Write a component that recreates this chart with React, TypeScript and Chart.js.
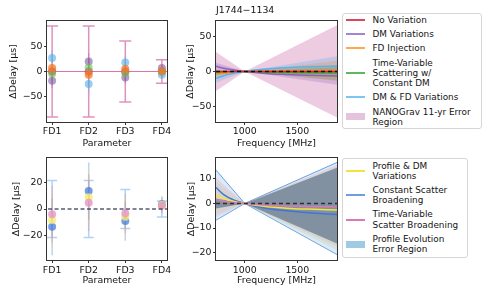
import React, { useEffect, useRef } from 'react';
import { Chart, registerables } from 'chart.js';

Chart.register(...registerables);

// ---------------- data ----------------
const PULSAR = 'J1744\u22121134';
const PARAMS = ['FD1', 'FD2', 'FD3', 'FD4'];
const PARAM_POS = [0, 1, 2, 3];

// top-left: FD fits (µs)
const NANOGRAV_FD = [0, 0, 0, 0];
const NANOGRAV_ERR = [91, 91, 61, 23.5];
const NO_VAR_FD = [0, 0, 0, 0];
const DM_VAR_FD = [-18.6, 20, -12, 6.8];
const FD_INJ_FD = [6.8, -6.6, 4.8, 1];
const TV_SCAT_FD = [-4.6, 8, -3.2, 0];
const DM_FD_FD = [26.8, -25.2, 18, -6.6];
const TOP_FIT_ERR = [15, 17, 13, 5];

// bottom-left
const PROF_EVOL_FD = [0, 0, 0, 0];
const PROF_EVOL_ERR = [21.5, 21.5, 14.8, 6];
const PROF_DM_FD = [-8.3, 8.9, -5.8, 3];
const CONST_SCAT_FD = [-13.4, 13.6, -9.1, 3.6];
const TV_BROAD_FD = [-4, 4.8, -3.3, 2.5];

// right panels: delay curves (µs) vs frequency (MHz)
const LINE_FREQS = [727, 800, 900, 1000, 1200, 1400, 1600, 1877];
const NO_VAR_DELAY = [0, 0, 0, 0, 0, 0, 0, 0];
const DM_VAR_DELAY = [7.5, 4.8, 2.2, 0, -2.8, -4.3, -5.4, -6.5];
const FD_INJ_DELAY = [-3.5, -2.2, -1.0, 0, 0.7, 1.0, 1.2, 1.3];
const TV_SCAT_DELAY = [-1.5, -1.0, -0.4, 0, -0.9, -1.5, -1.9, -2.3];
const DM_FD_DELAY = [-10, -6, -2.6, 0, 3.5, 5.5, 6.8, 8];

const PROF_DM_DELAY = [3.4, 2.0, 0.8, 0, -1.2, -1.9, -2.3, -2.7];
const CONST_SCAT_DELAY = [6.5, 3.6, 1.3, 0, -1.9, -3.0, -3.8, -4.5];
const TV_BROAD_DELAY = [1.6, 0.9, 0.35, 0, -0.7, -1.0, -1.2, -1.4];

// error regions
const BAND_FREQS = [727, 1000, 1877];
const NANOGRAV_HI = [28, 0, 66.5];
const NANOGRAV_LO = [-28, 0, -66];
const DM_VAR_HI = [12.5, 0, 6];
const DM_VAR_LO = [2.5, 0, -19];
const FD_INJ_HI = [1.5, 0, 15.3];
const FD_INJ_LO = [-8.5, 0, -12.7];
const TV_SCAT_HI = [2.5, 0, 8.7];
const TV_SCAT_LO = [-5.5, 0, -13.3];
const DM_FD_HI = [-4, 0, 22];
const DM_FD_LO = [-16, 0, -6];

const CONST_SCAT_HI = [13.6, 0, 16.7];
const CONST_SCAT_LO = [-6.8, 0, -20.8];
const TV_BROAD_HI = [10.5, 0, 15.8];
const TV_BROAD_LO = [-5.5, 0, -17.5];
const PROF_DM_HI = [9, 0, 15];
const PROF_DM_LO = [-4.5, 0, -19];
const PROF_EVOL_HI = [2, 0, 14.5];
const PROF_EVOL_LO = [-2, 0, -16.3];

// ticks
const TL_Y_TICKS = [-50, 0, 50];
const BL_Y_TICKS = [-20, 0, 20];
const TR_Y_TICKS = [-50, 0, 50];
const BR_Y_TICKS = [-20, -10, 0, 10];
const FREQ_TICKS = [1000, 1500];

const TOP_LEGEND = [
  { label: ['No Variation'], color: '#d9485f', kind: 'line' },
  { label: ['DM Variations'], color: '#a386d2', kind: 'line' },
  { label: ['FD Injection'], color: '#ffa84d', kind: 'line' },
  { label: ['Time-Variable', 'Scattering w/', 'Constant DM'], color: '#5cba5c', kind: 'line' },
  { label: ['DM & FD Variations'], color: '#7cc6f2', kind: 'line' },
  { label: ['NANOGrav 11-yr Error', 'Region'], color: '#e6c3dc', kind: 'patch' },
];
const BOTTOM_LEGEND = [
  { label: ['Profile & DM', 'Variations'], color: '#f2e43c', kind: 'line' },
  { label: ['Constant Scatter', 'Broadening'], color: '#6f9ee8', kind: 'line' },
  { label: ['Time-Variable', 'Scatter Broadening'], color: '#d97bb2', kind: 'line' },
  { label: ['Profile Evolution', 'Error Region'], color: '#9ecbe3', kind: 'patch' },
];

// ---------------- helpers ----------------
const FONT = { family: 'DejaVu Sans', size: 9.4 };
const TXT = '#141414';
const AX = '#333333';
const fmtNum = (v: number) => (v < 0 ? '\u2212' + Math.abs(v) : String(v));

type Box = { x: number; y: number; w: number; h: number };
type Plot = { l: number; t: number; r: number; b: number };

function yScale(box: Box, plot: Plot, min: number, max: number, ticks: number[], titleCenter: number) {
  return {
    type: 'linear', position: 'left', min, max,
    afterBuildTicks: (s: any) => { s.ticks = ticks.map((v) => ({ value: v })); },
    afterFit: (s: any) => { s.width = plot.l - box.x; },
    ticks: { font: FONT, color: TXT, padding: 1.5, autoSkip: false, maxRotation: 0, callback: (v: any) => fmtNum(v) },
    grid: { drawOnChartArea: false, drawTicks: true, tickLength: 3, color: AX, lineWidth: 1 },
    border: { display: false },
    title: { display: true, text: '\u0394Delay [\u03bcs]', font: FONT, color: TXT, padding: { top: titleCenter - box.x - FONT.size * 0.6, bottom: 0 } },
  };
}

function xScale(box: Box, plot: Plot, min: number, max: number, ticks: number[], labelFn: (v: number) => string, text: string, tickPad: number, titleCenterY: number) {
  return {
    type: 'linear', position: 'bottom', min, max,
    afterBuildTicks: (s: any) => { s.ticks = ticks.map((v) => ({ value: v })); },
    afterFit: (s: any) => { s.height = box.y + box.h - plot.b; },
    ticks: { font: FONT, color: TXT, padding: tickPad, autoSkip: false, maxRotation: 0, callback: (v: any) => labelFn(v) },
    grid: { drawOnChartArea: false, drawTicks: true, tickLength: 3, color: AX, lineWidth: 1 },
    border: { display: false },
    title: { display: true, text, font: FONT, color: TXT, padding: { top: 0, bottom: box.y + box.h - titleCenterY - FONT.size * 0.6 } },
  };
}

function baseOptions(box: Box, plot: Plot, scales: any) {
  return {
    animation: false, responsive: false, devicePixelRatio: 1, events: [],
    layout: { padding: { left: 0, top: plot.t - box.y, right: box.x + box.w - plot.r, bottom: 0 } },
    plugins: { legend: { display: false }, tooltip: { enabled: false }, title: { display: false } },
    scales,
  };
}

const boxPlugin = {
  id: 'frameBox',
  afterDraw(chart: any) {
    const { ctx, chartArea: a } = chart;
    ctx.save();
    ctx.strokeStyle = AX;
    ctx.lineWidth = 1;
    ctx.strokeRect(Math.round(a.left) - 0.5, Math.round(a.top) - 0.5, Math.round(a.right - a.left) + 1, Math.round(a.bottom - a.top) + 1);
    ctx.restore();
  },
};

type Bar = { vals: number[]; err: number[]; color: string; w: number; cap: number };
function errPlugin(bars: Bar[]) {
  return {
    id: 'errBars',
    beforeDatasetsDraw(chart: any) {
      const { ctx, scales } = chart;
      const xs = scales.x, ys = scales.y;
      ctx.save();
      for (const b of bars) {
        ctx.strokeStyle = b.color;
        ctx.lineWidth = b.w;
        ctx.beginPath();
        b.vals.forEach((v, i) => {
          const px = xs.getPixelForValue(PARAM_POS[i]);
          const top = ys.getPixelForValue(v + b.err[i]);
          const bot = ys.getPixelForValue(v - b.err[i]);
          ctx.moveTo(px, top); ctx.lineTo(px, bot);
          if (b.cap) {
            ctx.moveTo(px - b.cap, top); ctx.lineTo(px + b.cap, top);
            ctx.moveTo(px - b.cap, bot); ctx.lineTo(px + b.cap, bot);
          }
        });
        ctx.stroke();
      }
      ctx.restore();
    },
  };
}

const titlePlugin = {
  id: 'leftTitle',
  afterDraw(chart: any) {
    const { ctx, chartArea } = chart;
    ctx.save();
    ctx.font = `${FONT.size}px ${FONT.family}`;
    ctx.fillStyle = TXT;
    ctx.textAlign = 'left';
    ctx.textBaseline = 'middle';
    ctx.fillText(PULSAR, chartArea.left, 11);
    ctx.restore();
  },
};

const pts = (vals: number[], color: string, order: number) => ({
  data: PARAM_POS.map((x, i) => ({ x, y: vals[i] })),
  showLine: false, pointRadius: 4, pointBorderWidth: 0, pointBackgroundColor: color, backgroundColor: color, borderColor: color, order,
});
const curve = (xs: number[], vals: number[], color: string, order: number, width = 1.5, dash: number[] = []) => ({
  data: xs.map((x, i) => ({ x, y: vals[i] })),
  borderColor: color, borderWidth: width, borderDash: dash, pointRadius: 0, fill: false,
  cubicInterpolationMode: 'monotone', order,
});
const band = (hi: number[], lo: number[], color: string, order: number, edge = 'transparent', edgeW = 0) => [
  { data: BAND_FREQS.map((x, i) => ({ x, y: hi[i] })), borderColor: edge, borderWidth: edgeW, pointRadius: 0, tension: 0, fill: '+1', backgroundColor: color, order },
  { data: BAND_FREQS.map((x, i) => ({ x, y: lo[i] })), borderColor: edge, borderWidth: edgeW, pointRadius: 0, tension: 0, fill: false, order: order + 0.5 },
];

// ---------------- panels ----------------
const TL_BOX: Box = { x: 0, y: 0, w: 175, h: 150 };
const TL_PLOT: Plot = { l: 47, t: 21, r: 167, b: 122 };
const TR_BOX: Box = { x: 175, y: 0, w: 165, h: 150 };
const TR_PLOT: Plot = { l: 216, t: 21, r: 337, b: 122 };
const BL_BOX: Box = { x: 0, y: 150, w: 175, h: 144 };
const BL_PLOT: Plot = { l: 47, t: 158, r: 167, b: 260 };
const BR_BOX: Box = { x: 175, y: 150, w: 165, h: 144 };
const BR_PLOT: Plot = { l: 216, t: 158, r: 337, b: 260 };

const paramLabel = (v: number) => PARAMS[v] ?? '';
const freqLabel = (v: number) => String(v);

function makeTL() {
  return {
    type: 'line',
    data: {
      datasets: [
        pts(FD_INJ_FD, 'rgba(245,120,40,0.75)', 1),
        pts(TV_SCAT_FD, 'rgba(110,195,90,0.6)', 2),
        pts(DM_VAR_FD, 'rgba(130,90,165,0.6)', 3),
        pts(DM_FD_FD, 'rgba(80,175,235,0.6)', 4),
        pts(NO_VAR_FD, 'rgba(214,39,40,0.5)', 5),
        pts(NANOGRAV_FD, 'rgba(214,110,170,0.5)', 6),
        curve([-1, 4], [0, 0], 'rgba(214,100,165,0.9)', 7, 1.2),
      ],
    },
    options: baseOptions(TL_BOX, TL_PLOT, {
      x: xScale(TL_BOX, TL_PLOT, -0.14, 3.14, PARAM_POS, paramLabel, 'Parameter', 1, 143.5),
      y: yScale(TL_BOX, TL_PLOT, -101, 101, TL_Y_TICKS, 14),
    }),
    plugins: [
      errPlugin([
        { vals: NANOGRAV_FD, err: NANOGRAV_ERR, color: 'rgba(214,110,170,0.75)', w: 1.5, cap: 6 },
        { vals: DM_VAR_FD, err: TOP_FIT_ERR, color: 'rgba(148,103,189,0.35)', w: 1.5, cap: 0 },
        { vals: DM_FD_FD, err: TOP_FIT_ERR, color: 'rgba(86,180,233,0.35)', w: 1.5, cap: 0 },
        { vals: TV_SCAT_FD, err: TOP_FIT_ERR, color: 'rgba(44,160,44,0.25)', w: 1.5, cap: 0 },
        { vals: FD_INJ_FD, err: TOP_FIT_ERR, color: 'rgba(255,127,14,0.25)', w: 1.5, cap: 0 },
      ]),
      boxPlugin,
    ],
  };
}

function makeBL() {
  return {
    type: 'line',
    data: {
      datasets: [
        curve([-1, 4], [0, 0], 'rgba(40,50,80,0.8)', 0, 1.5, [4, 2.5]),
        pts(TV_BROAD_FD, 'rgba(230,150,195,0.8)', 1),
        pts(PROF_DM_FD, 'rgba(245,235,110,0.8)', 2),
        pts(CONST_SCAT_FD, 'rgba(70,125,225,0.75)', 3),
      ],
    },
    options: baseOptions(BL_BOX, BL_PLOT, {
      x: xScale(BL_BOX, BL_PLOT, -0.14, 3.14, PARAM_POS, paramLabel, 'Parameter', 2, 281),
      y: yScale(BL_BOX, BL_PLOT, -38.5, 38.5, BL_Y_TICKS, 16.7),
    }),
    plugins: [
      errPlugin([
        { vals: PROF_EVOL_FD, err: PROF_EVOL_ERR, color: 'rgba(150,195,240,0.75)', w: 1.5, cap: 5 },
        { vals: CONST_SCAT_FD, err: PROF_EVOL_ERR, color: 'rgba(91,142,230,0.4)', w: 1.5, cap: 0 },
        { vals: PROF_DM_FD, err: PROF_EVOL_ERR, color: 'rgba(240,225,80,0.35)', w: 1.5, cap: 0 },
        { vals: TV_BROAD_FD, err: PROF_EVOL_ERR, color: 'rgba(220,130,180,0.35)', w: 1.5, cap: 0 },
      ]),
      boxPlugin,
    ],
  };
}

function makeTR() {
  return {
    type: 'line',
    data: {
      datasets: [
        curve([727, 1877], [0, 0], '#111111', 0, 1.5, [4, 3]),
        curve(LINE_FREQS, NO_VAR_DELAY, '#d62728', 1),
        curve(LINE_FREQS, DM_FD_DELAY, '#56b4e9', 2),
        curve(LINE_FREQS, FD_INJ_DELAY, '#ff8c1a', 3),
        curve(LINE_FREQS, TV_SCAT_DELAY, '#3aa83a', 4),
        curve(LINE_FREQS, DM_VAR_DELAY, '#8a63c0', 5),
        ...band(TV_SCAT_HI, TV_SCAT_LO, 'rgba(44,160,44,0.2)', 10),
        ...band(FD_INJ_HI, FD_INJ_LO, 'rgba(255,127,14,0.22)', 12),
        ...band(DM_VAR_HI, DM_VAR_LO, 'rgba(148,103,189,0.28)', 14),
        ...band(DM_FD_HI, DM_FD_LO, 'rgba(86,180,233,0.28)', 16),
        ...band(NANOGRAV_HI, NANOGRAV_LO, 'rgba(205,110,170,0.36)', 20),
      ],
    },
    options: baseOptions(TR_BOX, TR_PLOT, {
      x: xScale(TR_BOX, TR_PLOT, 727, 1877, FREQ_TICKS, freqLabel, 'Frequency [MHz]', 1, 143.5),
      y: yScale(TR_BOX, TR_PLOT, -72.5, 72.5, TR_Y_TICKS, 190.5),
    }),
    plugins: [boxPlugin, titlePlugin],
  };
}

function makeBR() {
  return {
    type: 'line',
    data: {
      datasets: [
        curve([727, 1877], [0, 0], 'rgba(30,30,30,0.85)', 0, 1.5, [4, 3]),
        curve(LINE_FREQS, TV_BROAD_DELAY, '#d97bb2', 1),
        curve(LINE_FREQS, PROF_DM_DELAY, '#f2e43c', 2),
        curve(LINE_FREQS, CONST_SCAT_DELAY, '#3f76d8', 3),
        ...band(PROF_EVOL_HI, PROF_EVOL_LO, 'rgba(90,115,140,0.68)', 10),
        ...band(PROF_DM_HI, PROF_DM_LO, 'rgba(200,205,150,0.3)', 12),
        ...band(TV_BROAD_HI, TV_BROAD_LO, 'rgba(220,150,185,0.25)', 14),
        ...band(CONST_SCAT_HI, CONST_SCAT_LO, 'rgba(140,185,240,0.3)', 16, 'rgba(70,140,210,0.8)', 1),
      ],
    },
    options: baseOptions(BR_BOX, BR_PLOT, {
      x: xScale(BR_BOX, BR_PLOT, 727, 1877, FREQ_TICKS, freqLabel, 'Frequency [MHz]', 2, 281),
      y: yScale(BR_BOX, BR_PLOT, -23, 18.5, BR_Y_TICKS, 191.8),
    }),
    plugins: [boxPlugin],
  };
}

function Panel({ box, make }: { box: Box; make: () => any }) {
  const ref = useRef<HTMLCanvasElement>(null);
  useEffect(() => {
    const chart = new Chart(ref.current as HTMLCanvasElement, make());
    return () => chart.destroy();
  }, []);
  return (
    <canvas
      ref={ref}
      width={box.w}
      height={box.h}
      style={{ position: 'absolute', left: box.x, top: box.y, width: box.w, height: box.h }}
    />
  );
}

function Legend({ x, y, w, items, padTop, padBottom }: { x: number; y: number; w: number; items: any[]; padTop: number; padBottom: number }) {
  return (
    <div
      style={{
        position: 'absolute', left: x, top: y, width: w, boxSizing: 'border-box',
        border: '1px solid #d6d6d6', borderRadius: 3, background: '#fff',
        paddingTop: padTop, paddingBottom: padBottom,
        fontFamily: 'DejaVu Sans', fontSize: 8.9, lineHeight: '10.1px', color: TXT,
      }}
    >
      {items.map((it, i) => (
        <div key={i} style={{ display: 'flex', alignItems: 'center', marginTop: i ? 4.3 : 0 }}>
          <div style={{ width: 19, marginLeft: 3, marginRight: 7.5, height: it.kind === 'patch' ? 7 : 2, background: it.color, flex: 'none' }} />
          <div>
            {it.label.map((l: string, j: number) => (
              <div key={j} style={{ whiteSpace: 'nowrap' }}>{l}</div>
            ))}
          </div>
        </div>
      ))}
    </div>
  );
}

export default function App() {
  return (
    <div style={{ position: 'absolute', left: 0, top: 0, width: 491, height: 294, background: '#fff', overflow: 'hidden' }}>
      <Panel box={TL_BOX} make={makeTL} />
      <Panel box={TR_BOX} make={makeTR} />
      <Panel box={BL_BOX} make={makeBL} />
      <Panel box={BR_BOX} make={makeBR} />
      <Legend x={342} y={12.5} w={140} items={TOP_LEGEND} padTop={1} padBottom={1.5} />
      <Legend x={342} y={158} w={126} items={BOTTOM_LEGEND} padTop={1.5} padBottom={3} />
    </div>
  );
}
